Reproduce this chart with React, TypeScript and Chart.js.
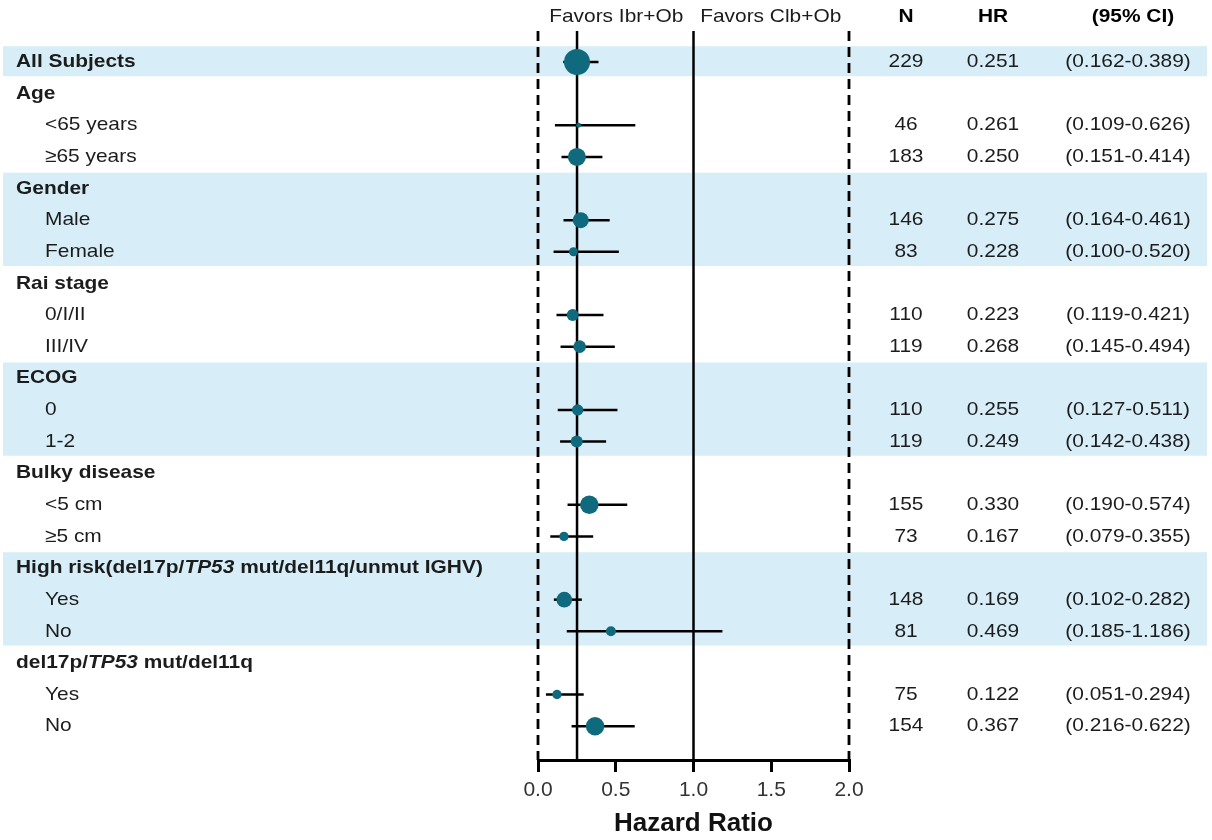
import React, { useEffect, useRef } from "react";
import { Chart, registerables } from "chart.js";

Chart.register(...registerables);

// ---------------- data ----------------
const rowLabels = [
  "All Subjects",
  "Age",
  "<65 years",
  "≥65 years",
  "Gender",
  "Male",
  "Female",
  "Rai stage",
  "0/I/II",
  "III/IV",
  "ECOG",
  "0",
  "1-2",
  "Bulky disease",
  "<5 cm",
  "≥5 cm",
  "High risk(del17p/*TP53* mut/del11q/unmut IGHV)",
  "Yes",
  "No",
  "del17p/*TP53* mut/del11q",
  "Yes",
  "No",
];
const rowIsGroup = [
  true, true, false, false, true, false, false, true, false, false, true,
  false, false, true, false, false, true, false, false, true, false, false,
];
const nValues = [229, null, 46, 183, null, 146, 83, null, 110, 119, null, 110, 119, null, 155, 73, null, 148, 81, null, 75, 154];
const hrValues = [0.251, null, 0.261, 0.25, null, 0.275, 0.228, null, 0.223, 0.268, null, 0.255, 0.249, null, 0.33, 0.167, null, 0.169, 0.469, null, 0.122, 0.367];
const ciLower = [0.162, null, 0.109, 0.151, null, 0.164, 0.1, null, 0.119, 0.145, null, 0.127, 0.142, null, 0.19, 0.079, null, 0.102, 0.185, null, 0.051, 0.216];
const ciUpper = [0.389, null, 0.626, 0.414, null, 0.461, 0.52, null, 0.421, 0.494, null, 0.511, 0.438, null, 0.574, 0.355, null, 0.282, 1.186, null, 0.294, 0.622];
// relative marker weights (marker area)
const markerWeights = [169, null, 6, 81, null, 64, 20, null, 36, 40, null, 32, 36, null, 86, 22, null, 61, 25, null, 22, 85];
const shadedRows = [0, 4, 5, 6, 10, 11, 12, 16, 17, 18];
const xTickValues = [0, 0.5, 1, 1.5, 2];
const nullEffectLine = 1;
const boundaryLines = [0, 2];
const favorsLeft = "Favors Ibr+Ob";
const favorsRight = "Favors Clb+Ob";
const columnHeaders = ["N", "HR", "(95% CI)"];
const axisTitle = "Hazard Ratio";

// ---------------- styling / layout ----------------
const W = 1212;
const H = 840;
const FONT = "'Liberation Sans', Arial, Helvetica, sans-serif";
const TEAL = "#0e6a7c";
const BAND = "#d7eef8";
const TEXT = "#1c1c1c";
const Y_MIN = -0.98;
const Y_MAX = 22.07;
const HEADER_ROW = -1.43;
const SX = 1.1;

function drawRich(
  ctx: CanvasRenderingContext2D,
  text: string,
  x: number,
  y: number,
  size: number,
  bold: boolean,
  align: "left" | "center",
  color: string
) {
  const parts = text.split("*");
  const fonts = parts.map(
    (_, i) => `${i % 2 === 1 ? "italic " : ""}${bold ? "bold " : ""}${size}px ${FONT}`
  );
  ctx.save();
  ctx.translate(x, y);
  ctx.scale(SX, 1);
  ctx.textBaseline = "middle";
  ctx.textAlign = "left";
  ctx.fillStyle = color;
  let total = 0;
  parts.forEach((p, i) => {
    ctx.font = fonts[i];
    total += ctx.measureText(p).width;
  });
  let cx = align === "center" ? -total / 2 : 0;
  parts.forEach((p, i) => {
    ctx.font = fonts[i];
    ctx.fillText(p, cx, 0);
    cx += ctx.measureText(p).width;
  });
  ctx.restore();
}

const forestPlugin = {
  id: "forestDecor",
  beforeDatasetsDraw(chart: any) {
    const ctx = chart.ctx as CanvasRenderingContext2D;
    const ys = chart.scales.y;
    // merge consecutive shaded rows into bands
    const runs: [number, number][] = [];
    shadedRows.forEach((r) => {
      const last = runs[runs.length - 1];
      if (last && last[1] === r - 1) last[1] = r;
      else runs.push([r, r]);
    });
    ctx.save();
    ctx.fillStyle = BAND;
    runs.forEach(([a, b]) => {
      const top = ys.getPixelForValue(a - 0.5);
      const bot = ys.getPixelForValue(b + 0.45);
      ctx.fillRect(3, top, 1204, bot - top);
    });
    ctx.restore();
  },
  afterDraw(chart: any) {
    const ctx = chart.ctx as CanvasRenderingContext2D;
    const ys = chart.scales.y;
    const xs = chart.scales.x;
    const hy = ys.getPixelForValue(HEADER_ROW);
    const mid = xs.getPixelForValue(nullEffectLine);
    const leftEdge = xs.getPixelForValue(boundaryLines[0]);
    const rightEdge = xs.getPixelForValue(boundaryLines[1]);
    drawRich(ctx, favorsLeft, (leftEdge + mid) / 2 + 0.5, hy, 19, false, "center", TEXT);
    drawRich(ctx, favorsRight, (mid + rightEdge) / 2 - 0.5, hy, 19, false, "center", TEXT);
    const colX = [906, 993, 1128];
    drawRich(ctx, columnHeaders[0], colX[0], hy, 19, true, "center", "#000");
    drawRich(ctx, columnHeaders[1], colX[1], hy, 19, true, "center", "#000");
    drawRich(ctx, columnHeaders[2], colX[2] + 5, hy, 19, true, "center", "#000");

    rowLabels.forEach((label, i) => {
      const y = ys.getPixelForValue(i);
      const bold = rowIsGroup[i];
      drawRich(ctx, label, bold ? 16 : 45, y, 19, bold, "left", TEXT);
      if (hrValues[i] != null) {
        drawRich(ctx, String(nValues[i]), colX[0], y, 19, false, "center", TEXT);
        drawRich(ctx, (hrValues[i] as number).toFixed(3), colX[1], y, 19, false, "center", TEXT);
        drawRich(
          ctx,
          `(${(ciLower[i] as number).toFixed(3)}-${(ciUpper[i] as number).toFixed(3)})`,
          colX[2],
          y,
          19,
          false,
          "center",
          TEXT
        );
      }
    });
  },
};

export default function App() {
  const ref = useRef<HTMLCanvasElement | null>(null);

  useEffect(() => {
    document.body.style.margin = "0";
    const canvas = ref.current;
    if (!canvas) return;

    const rows = hrValues.map((v, i) => i).filter((i) => hrValues[i] != null);

    const pointsDs = {
      label: "HR",
      data: rows.map((i) => ({ x: hrValues[i] as number, y: i })),
      pointRadius: rows.map((i) => Math.sqrt(markerWeights[i] as number)),
      pointHoverRadius: rows.map((i) => Math.sqrt(markerWeights[i] as number)),
      pointBackgroundColor: TEAL,
      pointBorderWidth: 0,
      showLine: false,
      clip: false,
      order: 0,
    };

    const ciDs = rows.map((i) => ({
      label: "CI " + i,
      data: [
        { x: ciLower[i] as number, y: i },
        { x: ciUpper[i] as number, y: i },
      ],
      showLine: true,
      borderColor: "#000",
      borderWidth: 2.5,
      pointRadius: 0,
      clip: false,
      order: 1,
    }));

    const vLine = (x: number, dashed: boolean, width: number) => ({
      label: "v" + x,
      data: [
        { x, y: Y_MIN },
        { x, y: Y_MAX },
      ],
      showLine: true,
      borderColor: "#000",
      borderWidth: width,
      borderDash: dashed ? [10, 6] : [],
      borderCapStyle: "butt",
      pointRadius: 0,
      clip: false,
      order: 2,
    });

    const chart = new Chart(canvas, {
      type: "scatter",
      data: {
        datasets: [
          pointsDs,
          ...ciDs,
          vLine(hrValues[0] as number, false, 2.5),
          vLine(nullEffectLine, false, 2.5),
          ...boundaryLines.map((b) => vLine(b, true, 2.8)),
        ] as any,
      },
      options: {
        responsive: false,
        animation: false,
        devicePixelRatio: 1,
        events: [],
        layout: { padding: { left: 538, right: 363, top: 31, bottom: 0 } },
        plugins: { legend: { display: false }, tooltip: { enabled: false } },
        scales: {
          x: {
            type: "linear",
            min: 0,
            max: 2,
            afterBuildTicks: (s: any) => {
              s.ticks = xTickValues.map((v) => ({ value: v }));
            },
            afterFit: (s: any) => {
              s.height = 80;
            },
            ticks: {
              callback: (v: any) => Number(v).toFixed(1),
              font: { size: 21, family: FONT },
              color: "#333",
              padding: 6,
              maxRotation: 0,
              autoSkip: false,
            },
            grid: {
              drawOnChartArea: false,
              drawTicks: true,
              tickLength: 12,
              tickWidth: 3,
              tickColor: "#000",
              color: "#000",
              lineWidth: 3,
            },
            border: { display: true, color: "#000", width: 3 },
            title: {
              display: true,
              text: axisTitle,
              font: { size: 26, weight: "bold", family: FONT },
              color: "#111",
              padding: { top: 0, bottom: 1 },
            },
          },
          y: {
            type: "linear",
            min: Y_MIN,
            max: Y_MAX,
            reverse: true,
            display: false,
          },
        },
      },
      plugins: [forestPlugin],
    } as any);

    return () => chart.destroy();
  }, []);

  return (
    <canvas
      ref={ref}
      width={W}
      height={H}
      style={{ display: "block", width: W, height: H }}
    />
  );
}
